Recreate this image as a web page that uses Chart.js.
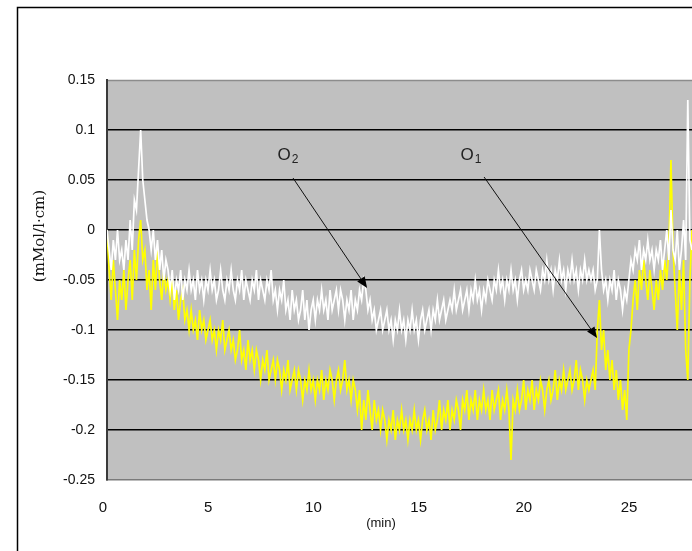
<!DOCTYPE html>
<html>
<head>
<meta charset="utf-8">
<script src="https://cdn.jsdelivr.net/npm/chart.js@4/dist/chart.umd.min.js"></script>
<style>
html,body{margin:0;padding:0;background:#fff;}
#wrap{position:relative;width:692px;height:551px;}
</style>
</head>
<body>
<div id="wrap"><canvas id="c" width="692" height="551"></canvas></div>
<script>
// sampling interval of the traces (minutes)
const STEP = 0.1;
const xTicks = [0, 5, 10, 15, 20, 25];
const yTicks = [0.15, 0.1, 0.05, 0, -0.05, -0.1, -0.15, -0.2, -0.25];
const xTitle = "(min)";
const yTitle = "(mMol/l·cm)";
const seriesNames = ["O2", "O1"];

// O1 trace (yellow), t = 0.0 … 27.8 min
const o1 = [
  0.00,-0.04,-0.07,-0.03,-0.06,-0.09,-0.05,-0.07,-0.04,-0.08,
 -0.05,-0.03,-0.07,-0.02,-0.05,-0.01, 0.01,-0.03,-0.02,-0.06,
 -0.04,-0.08,-0.03,-0.06,-0.02,-0.05,-0.07,-0.04,-0.06,-0.05,
 -0.07,-0.05,-0.08,-0.06,-0.09,-0.07,-0.06,-0.09,-0.08,-0.10,
 -0.08,-0.10,-0.09,-0.11,-0.08,-0.10,-0.09,-0.11,-0.10,-0.09,
 -0.11,-0.10,-0.12,-0.10,-0.11,-0.09,-0.12,-0.11,-0.10,-0.12,
 -0.11,-0.13,-0.12,-0.10,-0.13,-0.12,-0.14,-0.11,-0.13,-0.12,
 -0.14,-0.12,-0.13,-0.15,-0.13,-0.14,-0.12,-0.15,-0.14,-0.13,
 -0.15,-0.13,-0.14,-0.16,-0.14,-0.15,-0.13,-0.16,-0.15,-0.14,
 -0.16,-0.14,-0.15,-0.17,-0.15,-0.16,-0.14,-0.16,-0.15,-0.17,
 -0.15,-0.16,-0.14,-0.17,-0.15,-0.16,-0.14,-0.15,-0.17,-0.15,
 -0.14,-0.16,-0.15,-0.13,-0.16,-0.15,-0.17,-0.15,-0.16,-0.18,
 -0.16,-0.20,-0.17,-0.19,-0.16,-0.18,-0.20,-0.17,-0.19,-0.18,
 -0.20,-0.18,-0.19,-0.21,-0.19,-0.20,-0.18,-0.21,-0.19,-0.20,
 -0.18,-0.20,-0.19,-0.21,-0.19,-0.20,-0.18,-0.20,-0.19,-0.21,
 -0.19,-0.18,-0.20,-0.19,-0.21,-0.18,-0.20,-0.19,-0.17,-0.20,
 -0.18,-0.19,-0.17,-0.20,-0.18,-0.19,-0.17,-0.18,-0.20,-0.17,
 -0.18,-0.16,-0.19,-0.17,-0.18,-0.16,-0.19,-0.17,-0.18,-0.16,
 -0.18,-0.17,-0.19,-0.16,-0.18,-0.17,-0.16,-0.19,-0.17,-0.18,
 -0.16,-0.18,-0.23,-0.17,-0.18,-0.16,-0.18,-0.17,-0.15,-0.18,
 -0.16,-0.17,-0.15,-0.18,-0.16,-0.17,-0.15,-0.16,-0.18,-0.16,
 -0.15,-0.17,-0.16,-0.14,-0.17,-0.15,-0.16,-0.14,-0.16,-0.15,
 -0.14,-0.16,-0.15,-0.13,-0.16,-0.14,-0.15,-0.17,-0.15,-0.16,
 -0.15,-0.14,-0.16,-0.10,-0.07,-0.12,-0.10,-0.14,-0.12,-0.15,
 -0.13,-0.16,-0.14,-0.17,-0.15,-0.18,-0.16,-0.19,-0.12,-0.10,
 -0.07,-0.05,-0.08,-0.04,-0.06,-0.03,-0.05,-0.07,-0.04,-0.06,
 -0.08,-0.05,-0.07,-0.04,-0.06,-0.03,-0.05,-0.02, 0.07,-0.02,
 -0.06,-0.10,-0.04,-0.08,-0.03,-0.12,-0.15,-0.05, 0.00
];

// O2 trace (white), t = 0.0 … 27.8 min
const o2 = [
  0.00,-0.02,-0.04,-0.01,-0.03, 0.00,-0.03,-0.02,-0.04,-0.01,
 -0.03, 0.01,-0.02, 0.03, 0.02, 0.06, 0.10, 0.05, 0.03, 0.01,
  0.00,-0.02, 0.00,-0.03,-0.01,-0.04,-0.02,-0.05,-0.03,-0.04,
 -0.06,-0.04,-0.07,-0.05,-0.06,-0.04,-0.07,-0.05,-0.06,-0.04,
 -0.06,-0.05,-0.07,-0.04,-0.06,-0.05,-0.07,-0.05,-0.06,-0.04,
 -0.06,-0.05,-0.07,-0.06,-0.04,-0.06,-0.07,-0.05,-0.06,-0.04,
 -0.06,-0.07,-0.05,-0.06,-0.04,-0.07,-0.05,-0.06,-0.07,-0.05,
 -0.06,-0.04,-0.07,-0.05,-0.06,-0.07,-0.05,-0.06,-0.04,-0.07,
 -0.06,-0.08,-0.06,-0.07,-0.05,-0.08,-0.07,-0.09,-0.06,-0.08,
 -0.07,-0.09,-0.08,-0.06,-0.09,-0.07,-0.10,-0.08,-0.07,-0.09,
 -0.07,-0.08,-0.06,-0.08,-0.07,-0.09,-0.06,-0.08,-0.07,-0.06,
 -0.08,-0.06,-0.07,-0.09,-0.07,-0.08,-0.06,-0.09,-0.07,-0.08,
 -0.06,-0.07,-0.05,-0.06,-0.08,-0.07,-0.09,-0.08,-0.10,-0.09,
 -0.08,-0.10,-0.09,-0.08,-0.10,-0.09,-0.11,-0.09,-0.10,-0.08,
 -0.10,-0.09,-0.11,-0.09,-0.10,-0.08,-0.10,-0.09,-0.11,-0.09,
 -0.08,-0.10,-0.09,-0.08,-0.10,-0.08,-0.09,-0.07,-0.09,-0.08,
 -0.07,-0.09,-0.08,-0.07,-0.08,-0.06,-0.08,-0.07,-0.06,-0.08,
 -0.07,-0.06,-0.08,-0.06,-0.07,-0.05,-0.07,-0.06,-0.08,-0.06,
 -0.07,-0.05,-0.06,-0.07,-0.05,-0.06,-0.04,-0.06,-0.05,-0.07,
 -0.05,-0.06,-0.04,-0.06,-0.05,-0.07,-0.05,-0.04,-0.06,-0.05,
 -0.06,-0.04,-0.05,-0.06,-0.04,-0.05,-0.06,-0.04,-0.05,-0.03,
 -0.05,-0.04,-0.06,-0.04,-0.05,-0.03,-0.05,-0.04,-0.06,-0.04,
 -0.05,-0.03,-0.05,-0.04,-0.06,-0.04,-0.05,-0.03,-0.05,-0.04,
 -0.05,-0.04,-0.06,-0.05, 0.00,-0.04,-0.06,-0.05,-0.07,-0.05,
 -0.06,-0.04,-0.07,-0.05,-0.06,-0.08,-0.06,-0.07,-0.05,-0.03,
 -0.04,-0.02,-0.03,-0.01,-0.04,-0.02,-0.03,-0.01,-0.03,-0.02,
 -0.04,-0.02,-0.03,-0.01,-0.04,-0.02, 0.00,-0.03, 0.02,-0.02,
 -0.03, 0.00,-0.04,-0.02, 0.01,-0.03, 0.13,-0.01,-0.02
];

// annotation placement (data coordinates: minutes, value)
const annotations = [
  {main: "O", sub: "2", tx: 8.1, ty: 0.075, from: [8.84, 0.052], to: [12.36, -0.058]},
  {main: "O", sub: "1", tx: 16.8, ty: 0.075, from: [17.92, 0.053], to: [23.29, -0.108]}
];

const toPts = arr => arr.map((v, i) => ({x: +(i * STEP).toFixed(1), y: v}));

const decor = {
  id: 'decor',
  beforeDraw(chart) {
    const {ctx, chartArea: a} = chart;
    ctx.save();
    ctx.fillStyle = '#fff';
    ctx.fillRect(0, 0, chart.width, chart.height);
    ctx.strokeStyle = '#000';
    ctx.lineWidth = 1.5;
    ctx.beginPath();
    ctx.moveTo(17.5, chart.height + 5);
    ctx.lineTo(17.5, 7.5);
    ctx.lineTo(chart.width + 5, 7.5);
    ctx.stroke();
    ctx.fillStyle = '#c0c0c0';
    ctx.fillRect(a.left, a.top, a.right - a.left, a.bottom - a.top);
    ctx.strokeStyle = '#8c8c8c';
    ctx.lineWidth = 1.5;
    ctx.beginPath();
    ctx.moveTo(a.left, a.top + 0.5);
    ctx.lineTo(a.right, a.top + 0.5);
    ctx.stroke();
    ctx.restore();
  },
  afterDraw(chart) {
    const {ctx, chartArea: a, scales: {x, y}} = chart;
    ctx.save();
    // annotations
    annotations.forEach(an => {
      const px = x.getPixelForValue(an.tx), py = y.getPixelForValue(an.ty);
      ctx.fillStyle = '#222';
      ctx.textBaseline = 'middle';
      ctx.textAlign = 'left';
      ctx.font = '17px "Liberation Sans", Arial, sans-serif';
      ctx.fillText(an.main, px, py);
      const w = ctx.measureText(an.main).width;
      ctx.font = '12px "Liberation Sans", Arial, sans-serif';
      ctx.fillText(an.sub, px + w + 1, py + 5);
      const x1 = x.getPixelForValue(an.from[0]), y1 = y.getPixelForValue(an.from[1]);
      const x2 = x.getPixelForValue(an.to[0]), y2 = y.getPixelForValue(an.to[1]);
      const ang = Math.atan2(y2 - y1, x2 - x1);
      const L = 11, H = 4.5;
      ctx.strokeStyle = '#111';
      ctx.lineWidth = 1;
      ctx.beginPath();
      ctx.moveTo(x1, y1);
      ctx.lineTo(x2 - Math.cos(ang) * L * 0.6, y2 - Math.sin(ang) * L * 0.6);
      ctx.stroke();
      ctx.fillStyle = '#000';
      ctx.beginPath();
      ctx.moveTo(x2, y2);
      ctx.lineTo(x2 - Math.cos(ang) * L - Math.sin(ang) * H, y2 - Math.sin(ang) * L + Math.cos(ang) * H);
      ctx.lineTo(x2 - Math.cos(ang) * L + Math.sin(ang) * H, y2 - Math.sin(ang) * L - Math.cos(ang) * H);
      ctx.closePath();
      ctx.fill();
    });
    // axis titles
    ctx.fillStyle = '#111';
    ctx.font = '13px "Liberation Sans", Arial, sans-serif';
    ctx.textAlign = 'center';
    ctx.textBaseline = 'middle';
    ctx.fillText(xTitle, 381, 523);
    ctx.translate(40, 236);
    ctx.rotate(-Math.PI / 2);
    ctx.font = '15px "DejaVu Serif", "Liberation Serif", serif';
    ctx.fillText(yTitle, 0, 0);
    ctx.restore();
  }
};

new Chart(document.getElementById('c'), {
  type: 'line',
  data: {
    datasets: [
      {label: seriesNames[0], data: toPts(o2), borderColor: '#ffffff', borderWidth: 1.7, pointRadius: 0, tension: 0, order: 0},
      {label: seriesNames[1], data: toPts(o1), borderColor: '#ffff00', borderWidth: 1.7, pointRadius: 0, tension: 0, order: 1}
    ]
  },
  options: {
    responsive: false,
    animation: false,
    events: [],
    layout: {padding: {top: 80, right: 0, bottom: 0, left: 0}},
    plugins: {legend: {display: false}, tooltip: {enabled: false}, title: {display: false}},
    scales: {
      x: {
        type: 'linear', min: 0, max: 27.8,
        afterBuildTicks: s => { s.ticks = xTicks.map(v => ({value: v})); },
        afterFit: s => { s.height = 71; },
        grid: {display: false, drawTicks: false},
        border: {display: true, color: '#7a7a7a', width: 1.5},
        ticks: {color: '#111', padding: 19, labelOffset: -4, maxRotation: 0, autoSkip: false,
                font: {family: '"Liberation Sans", Arial, sans-serif', size: 15},
                callback: v => String(v)}
      },
      y: {
        type: 'linear', min: -0.25, max: 0.15,
        afterBuildTicks: s => { s.ticks = yTicks.map(v => ({value: v})); },
        afterFit: s => { s.width = 107; },
        grid: {drawTicks: false, tickLength: 0, lineWidth: 1.5,
               color: c => (c.tick && (c.tick.value === 0.15 || c.tick.value === -0.25)) ? 'rgba(0,0,0,0)' : '#000'},
        border: {display: true, color: '#3a3a3a', width: 2},
        ticks: {color: '#111', padding: 12, autoSkip: false,
                font: {family: '"Liberation Sans", Arial, sans-serif', size: 14},
                callback: v => String(Math.round(v * 100) / 100)}
      }
    }
  },
  plugins: [decor]
});
</script>
</body>
</html>
